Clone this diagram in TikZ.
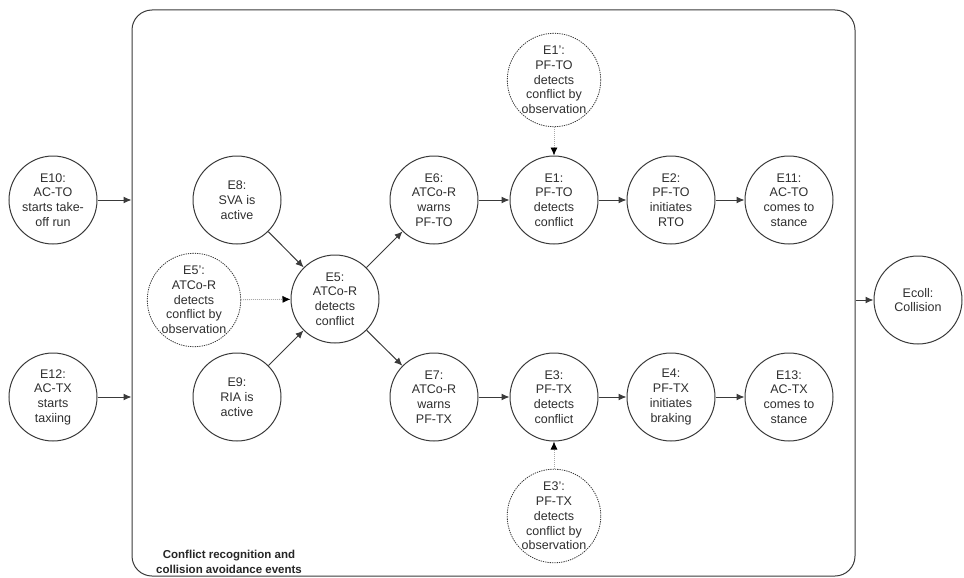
\documentclass[tikz,border=0pt]{standalone}
\usepackage{fontspec}
\setmainfont{Liberation Sans}
\usetikzlibrary{arrows.meta}
\definecolor{linec}{HTML}{3A3A3A}
\definecolor{textc}{HTML}{2E2E2E}
\definecolor{dotc}{HTML}{A8A8A8}
\begin{document}
\begin{tikzpicture}[x=1pt,y=-1pt,
  ev/.style={circle,draw=linec,line width=1pt,minimum size=88pt,inner sep=0pt,align=center,
    font=\fontsize{12.5}{14.7}\selectfont,text=textc},
  obs/.style={ev,dash pattern=on 1.3pt off 1pt,line width=0.8pt},
  arr/.style={draw=linec,line width=1pt,-{Latex[length=8pt,width=7pt]}},
  obsarr/.style={draw=dotc,line width=0.8pt,dash pattern=on 1pt off 1pt,
    -{Latex[length=8pt,width=7pt,color=black]}}
]
\useasboundingbox (0,0) rectangle (964,578);
\node[draw=linec,line width=1pt,rounded corners=20pt,minimum width=723pt,minimum height=566pt,inner sep=0pt] (box) at (493.5,293) {};
\node[font=\bfseries\fontsize{11.5}{15.5}\selectfont,align=center,text=black!85] (lbl) at (229,562) {Conflict recognition and\\collision avoidance events};

\node[ev] (e10) at (53,200) {E10:\\AC-TO\\starts take-\\off run};
\node[ev] (e12) at (53,397) {E12:\\AC-TX\\starts\\taxiing};
\node[ev] (e8) at (237,200) {E8:\\SVA is\\active};
\node[obs] (e5p) at (194,300) {E5':\\ATCo-R\\detects\\conflict by\\observation};
\node[ev] (e9) at (237,397) {E9:\\RIA is\\active};
\node[ev] (e5) at (335,299) {E5:\\ATCo-R\\detects\\conflict};
\node[ev] (e6) at (434,200) {E6:\\ATCo-R\\warns\\PF-TO};
\node[ev] (e7) at (434,397) {E7:\\ATCo-R\\warns\\PF-TX};
\node[ev] (e1) at (554,200) {E1:\\PF-TO\\detects\\conflict};
\node[ev] (e3) at (554,397) {E3:\\PF-TX\\detects\\conflict};
\node[obs] (e1p) at (554,80) {E1':\\PF-TO\\detects\\conflict by\\observation};
\node[obs] (e3p) at (554,516) {E3':\\PF-TX\\detects\\conflict by\\observation};
\node[ev] (e2) at (671,200) {E2:\\PF-TO\\initiates\\RTO};
\node[ev] (e4) at (671,397) {E4:\\PF-TX\\initiates\\braking};
\node[ev] (e11) at (789,200) {E11:\\AC-TO\\comes to\\stance};
\node[ev] (e13) at (789,397) {E13:\\AC-TX\\comes to\\stance};
\node[ev] (ecoll) at (918,300) {Ecoll:\\Collision};

\draw[arr] (e10) -- (e10 -| box.west);
\draw[arr] (e12) -- (e12 -| box.west);
\draw[arr] (box.east |- ecoll) -- (ecoll);
\draw[arr] (e8) -- (e5);
\draw[arr] (e9) -- (e5);
\draw[obsarr] (e5p) -- (e5);
\draw[arr] (e5) -- (e6);
\draw[arr] (e5) -- (e7);
\draw[arr] (e6) -- (e1);
\draw[arr] (e1) -- (e2);
\draw[arr] (e2) -- (e11);
\draw[arr] (e7) -- (e3);
\draw[arr] (e3) -- (e4);
\draw[arr] (e4) -- (e13);
\draw[obsarr] (e1p) -- (e1);
\draw[obsarr] (e3p) -- (e3);
\end{tikzpicture}
\end{document}
